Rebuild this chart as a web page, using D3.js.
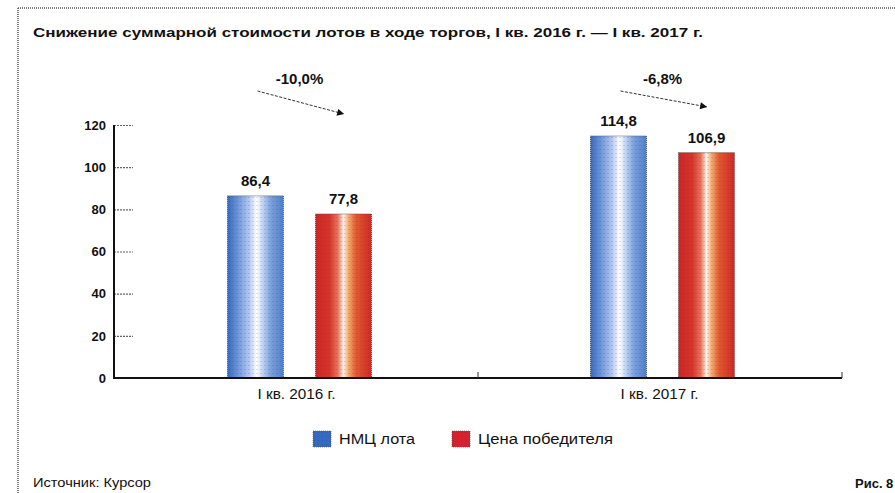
<!DOCTYPE html>
<html>
<head>
<meta charset="utf-8">
<script src="https://cdn.jsdelivr.net/npm/d3@7"></script>
<style>
  body { margin: 0; background: #fff; }
  text { font-family: "Liberation Sans", Arial, sans-serif; fill: #111; }
</style>
</head>
<body>
<svg id="chart" width="895" height="493"></svg>
<script>
const periods = ["I кв. 2016 г.", "I кв. 2017 г."];
const seriesNames = ["НМЦ лота", "Цена победителя"];
const nmcValues = [86.4, 114.8];
const winnerValues = [77.8, 106.9];
const changeLabels = ["-10,0%", "-6,8%"];
const yTicks = [0, 20, 40, 60, 80, 100, 120];

const svg = d3.select("#chart");
const defs = svg.append("defs");

// bar gradients
function grad(id, stops) {
  const g = defs.append("linearGradient").attr("id", id)
    .attr("x1", "0%").attr("x2", "100%").attr("y1", "0%").attr("y2", "0%");
  stops.forEach(s => g.append("stop").attr("offset", s[0]).attr("stop-color", s[1]));
}
grad("gBlue", [["0%", "#3669bf"], ["18%", "#6a94d6"], ["38%", "#b0c5ef"], ["52%", "#ffffff"], ["62%", "#c4d7f3"], ["78%", "#779fdc"], ["100%", "#4f80ca"]]);
grad("gRed", [["0%", "#cc2624"], ["25%", "#d6352a"], ["40%", "#e8745a"], ["50%", "#fff2ea"], ["58%", "#f4b274"], ["72%", "#e25a2c"], ["100%", "#cf2824"]]);

// dotted texture
const pat = defs.append("pattern").attr("id", "dots")
  .attr("width", 4).attr("height", 4).attr("patternUnits", "userSpaceOnUse");
pat.append("rect").attr("x", 1).attr("y", 1).attr("width", 1).attr("height", 1)
  .attr("fill", "#5a2a8a").attr("opacity", 0.35);

defs.append("marker").attr("id", "arr")
  .attr("viewBox", "0 0 10 10").attr("refX", 9).attr("refY", 5)
  .attr("markerWidth", 10).attr("markerHeight", 7).attr("markerUnits", "userSpaceOnUse")
  .attr("orient", "auto")
  .append("path").attr("d", "M0,0 L10,5 L0,10 Z").attr("fill", "#111");

// frame
svg.append("line").attr("x1", 18).attr("x2", 895).attr("y1", 8).attr("y2", 8)
  .attr("stroke", "#555").attr("stroke-width", 1.5).attr("stroke-dasharray", "1,1");
svg.append("line").attr("x1", 18).attr("x2", 18).attr("y1", 8).attr("y2", 493)
  .attr("stroke", "#555").attr("stroke-width", 1.5).attr("stroke-dasharray", "1,1");

svg.append("text").attr("x", 33).attr("y", 37)
  .style("font-weight", "bold").style("font-size", "12.5px")
  .attr("textLength", 670).attr("lengthAdjust", "spacingAndGlyphs")
  .text("Снижение суммарной стоимости лотов в ходе торгов, I кв. 2016 г. — I кв. 2017 г.");

const axisLeft = 114, axisRight = 842;
const y = d3.scaleLinear().domain([0, 120]).range([378, 125]);
const x0 = d3.scaleBand().domain(periods).range([118, 844]).padding(0);
const x1 = d3.scaleBand().domain(seriesNames).range([-72, 72]).paddingInner(0.364);

// y axis
const yAxis = svg.append("g").attr("transform", `translate(${axisLeft},0)`)
  .call(d3.axisRight(y).tickValues(yTicks).tickSize(19).tickFormat(""));
yAxis.select(".domain").remove();
yAxis.selectAll(".tick line").attr("stroke", "#666").attr("stroke-width", 1.2).attr("stroke-dasharray", "2,1");
svg.append("g").selectAll("text").data(yTicks).join("text")
  .attr("x", 106).attr("y", d => y(d)).attr("dy", "0.36em")
  .attr("text-anchor", "end").style("font-weight", "bold").style("font-size", "13px")
  .text(d => d);

// bars
const rows = periods.map((p, i) => ({ period: p, vals: [nmcValues[i], winnerValues[i]] }));
const fills = ["url(#gBlue)", "url(#gRed)"];
const groups = svg.append("g").selectAll("g").data(rows).join("g")
  .attr("transform", d => `translate(${x0(d.period) + x0.bandwidth() / 2},0)`);

groups.selectAll("rect.bar").data(d => d.vals.map((v, k) => ({ v, k }))).join("rect")
  .attr("class", "bar")
  .attr("x", d => x1(seriesNames[d.k])).attr("width", x1.bandwidth())
  .attr("y", d => y(d.v)).attr("height", d => y(0) - y(d.v))
  .attr("fill", d => fills[d.k])
  .attr("stroke", "#444").attr("stroke-width", 0.8).attr("stroke-dasharray", "1,1");
groups.selectAll("rect.tex").data(d => d.vals.map((v, k) => ({ v, k }))).join("rect")
  .attr("class", "tex")
  .attr("x", d => x1(seriesNames[d.k])).attr("width", x1.bandwidth())
  .attr("y", d => y(d.v)).attr("height", d => y(0) - y(d.v))
  .attr("fill", "url(#dots)");

groups.selectAll("text.val").data(d => d.vals.map((v, k) => ({ v, k }))).join("text")
  .attr("class", "val")
  .attr("x", d => x1(seriesNames[d.k]) + x1.bandwidth() / 2)
  .attr("y", d => y(d.v) - 10)
  .attr("text-anchor", "middle").style("font-weight", "bold").style("font-size", "15px")
  .text(d => d3.format(".1f")(d.v).replace(".", ","));

// change arrows
groups.append("line")
  .attr("x1", -42).attr("y1", 91)
  .attr("x2", 44).attr("y2", d => 91 + (1 - d.vals[1] / d.vals[0]) * 230)
  .attr("stroke", "#333").attr("stroke-width", 1).attr("stroke-dasharray", "3,1.5")
  .attr("marker-end", "url(#arr)");
groups.append("text").attr("x", 0).attr("y", 84)
  .attr("text-anchor", "middle").style("font-weight", "bold").style("font-size", "15px")
  .text((d, i) => changeLabels[i]);

// x axis
svg.append("line").attr("x1", axisLeft - 1).attr("x2", axisRight).attr("y1", y(0)).attr("y2", y(0))
  .attr("stroke", "#111").attr("stroke-width", 2.2);
svg.append("line").attr("x1", axisLeft).attr("x2", axisLeft).attr("y1", y(120)).attr("y2", y(0))
  .attr("stroke", "#111").attr("stroke-width", 2);
const bounds = [0.5, 1].map(f => axisLeft + (axisRight - axisLeft) * f);
svg.append("g").selectAll("line").data(bounds).join("line")
  .attr("x1", d => d).attr("x2", d => d).attr("y1", y(0) - 6).attr("y2", y(0))
  .attr("stroke", "#333").attr("stroke-width", 1);
svg.append("g").selectAll("text").data(periods).join("text")
  .attr("x", d => x0(d) + x0.bandwidth() / 2 - 3).attr("y", 399)
  .attr("text-anchor", "middle").style("font-size", "14px")
  .attr("textLength", 78).attr("lengthAdjust", "spacingAndGlyphs")
  .text(d => d);

// legend
const legColors = ["#2f6cc2", "#d4222e"];
const legX = [313, 452];
const legW = [76, 135];
const leg = svg.append("g").selectAll("g").data(seriesNames).join("g")
  .attr("transform", (d, i) => `translate(${legX[i]},431)`);
leg.append("rect").attr("width", 18).attr("height", 16)
  .attr("fill", (d, i) => legColors[i]).attr("stroke", "#555").attr("stroke-width", 0.6).attr("stroke-dasharray", "1,1");
leg.append("rect").attr("width", 18).attr("height", 16).attr("fill", "url(#dots)");
leg.append("text").attr("x", 26).attr("y", 13).style("font-size", "14px")
  .attr("textLength", (d, i) => legW[i]).attr("lengthAdjust", "spacingAndGlyphs")
  .text(d => d);

// footer
svg.append("text").attr("x", 33).attr("y", 487).style("font-size", "13px")
  .attr("textLength", 118).attr("lengthAdjust", "spacingAndGlyphs")
  .text("Источник: Курсор");
svg.append("text").attr("x", 855).attr("y", 488).style("font-size", "13px").style("font-weight", "bold").text("Рис. 8");
</script>
</body>
</html>
